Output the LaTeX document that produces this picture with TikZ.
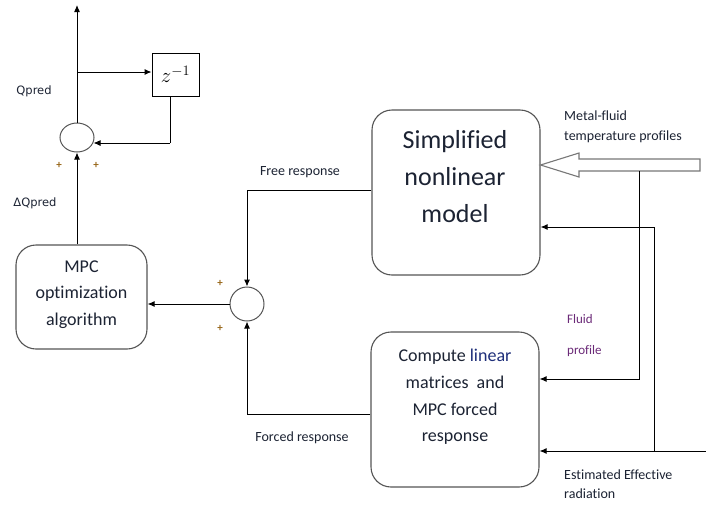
\documentclass[tikz,border=0pt]{standalone}
\usepackage{fontspec}
\setmainfont[Ligatures=NoCommon]{Carlito}
\newfontfamily\verdfont{DejaVu Sans}
\usetikzlibrary{arrows.meta,calc,shapes.geometric}
\definecolor{txt}{HTML}{1C2333}
\definecolor{bluetxt}{HTML}{1F2F7A}
\definecolor{purptxt}{HTML}{6B2A78}
\definecolor{plustxt}{HTML}{9A6A1E}
\definecolor{boxline}{HTML}{555555}
\tikzset{
  arr/.style={line width=1pt,-{Latex[length=7pt,width=6pt]}},
  plain/.style={line width=1pt},
  block/.style={draw=boxline,line width=1.1pt,rounded corners=20pt,fill=white},
  sumjunction/.style={draw=boxline,line width=1pt,fill=white,inner sep=0pt},
  lbl/.style={text=txt,inner sep=0pt,font=\fontsize{14pt}{17pt}\selectfont},
  plus/.style={text=plustxt,inner sep=0pt,font=\fontsize{11pt}{12pt}\selectfont\bfseries},
  boxtext/.style={text=txt,align=center,inner sep=0pt},
}
\begin{document}
\begin{tikzpicture}[x=1pt,y=-1pt]
\useasboundingbox[fill=white] (0,0) rectangle (706,504);

% blocks
\node[block,minimum width=131pt,minimum height=104pt] (mpc) at (81.5,297) {};
\node[boxtext,font=\fontsize{18pt}{26.5pt}\selectfont] (mpctext) at (81.5,294.5)
  {MPC\\optimization\\algorithm};

\node[block,minimum width=168pt,minimum height=165pt] (sim) at (456,192.5) {};
\node[boxtext,font=\fontsize{26pt}{37pt}\selectfont] (simtext) at (455,177)
  {Simplified\\nonlinear\\model};

\node[block,minimum width=168pt,minimum height=155pt] (comp) at (455,409.5) {};
\node[boxtext,font=\fontsize{18pt}{26.7pt}\selectfont] (comptext) at (455,397)
  {Compute \textcolor{bluetxt}{linear}\\matrices\ \ and\\MPC forced\\response};

\node[draw=black,line width=0.9pt,minimum width=47pt,minimum height=43pt,inner sep=0pt,
      font=\fontsize{21pt}{24pt}\selectfont] (z) at (175.5,74.5) {$z^{-1}$};

% summing junctions
\node[sumjunction,ellipse,minimum width=34pt,minimum height=29pt] (s1) at (77,137.5) {};
\node[sumjunction,circle,minimum size=34pt] (s2) at (247,304) {};

% routing points
\coordinate (top) at (77,5);
\coordinate (br) at (77,72);
\coordinate (fb) at (170,143);
\coordinate (fr) at (0,190);
\coordinate (frc) at (0,414);
\coordinate (fluidtop) at (639,171);
\coordinate (fluidin) at (0,379);
\coordinate (radtop) at (0,227);
\coordinate (radin) at (706,451);
\coordinate (radsplit) at (654,451);

% hollow input arrow
\coordinate (tip) at (sim.east |- 0,165);
\draw[draw=boxline!80,line width=1.1pt,fill=white,line join=miter]
  (tip) -- (579,153) -- (579,159) -- (700,159) -- (700,171) -- (579,171) -- (579,177) -- cycle;

% connectors
\draw[arr] (s1.north) -- (top);
\draw[arr] (br) -- (z.west |- br);
\draw[plain] ($(z.south)+(-5.5,0)$) -- (fb);
\draw[arr] (fb) -- ($(s1.east |- fb)+(-1,0)$);
\draw[arr] (s1 |- mpc.north) -- (s1.south);
\draw[arr] (sim.west |- fr) -| (s2.north);
\draw[arr] (comp.west |- frc) -| (s2.south);
\draw[arr] (s2.west) -- (mpc.east |- s2.west);
\draw[arr] (fluidtop) |- (comp.east |- fluidin);
\draw[arr] (radin) -- (comp.east |- radin);
\draw[arr] (radsplit) |- (sim.east |- radtop);

% labels
\node[text=txt,inner sep=0pt,font=\verdfont\fontsize{11.5pt}{14pt}\selectfont] (qpred) at (34,91) {Qpred};
\node[text=txt,inner sep=0pt,font=\verdfont\fontsize{11.5pt}{14pt}\selectfont] (dqpred) at (35,203) {ΔQpred};
\node[plus] (p1) at (59,165) {+};
\node[plus] (p2) at (96,165) {+};
\node[plus] (p3) at (220,283) {+};
\node[plus] (p4) at (220,328) {+};
\node[lbl] (freelbl) at (300,172) {Free response};
\node[lbl] (forcedlbl) at (302,438) {Forced response};
\node[lbl,anchor=west] (metal1) at (564,116) {Metal-fluid};
\node[lbl,anchor=west] (metal2) at (564,137) {temperature profiles};
\node[lbl,anchor=west,text=purptxt,font=\fontsize{13pt}{16pt}\selectfont] (fluid1) at (567,319) {Fluid};
\node[lbl,anchor=west,text=purptxt,font=\fontsize{13pt}{16pt}\selectfont] (fluid2) at (567,351) {profile};
\node[lbl,anchor=west] (rad1) at (564,475) {Estimated Effective};
\node[lbl,anchor=west] (rad2) at (564,494) {radiation};
\end{tikzpicture}
\end{document}
